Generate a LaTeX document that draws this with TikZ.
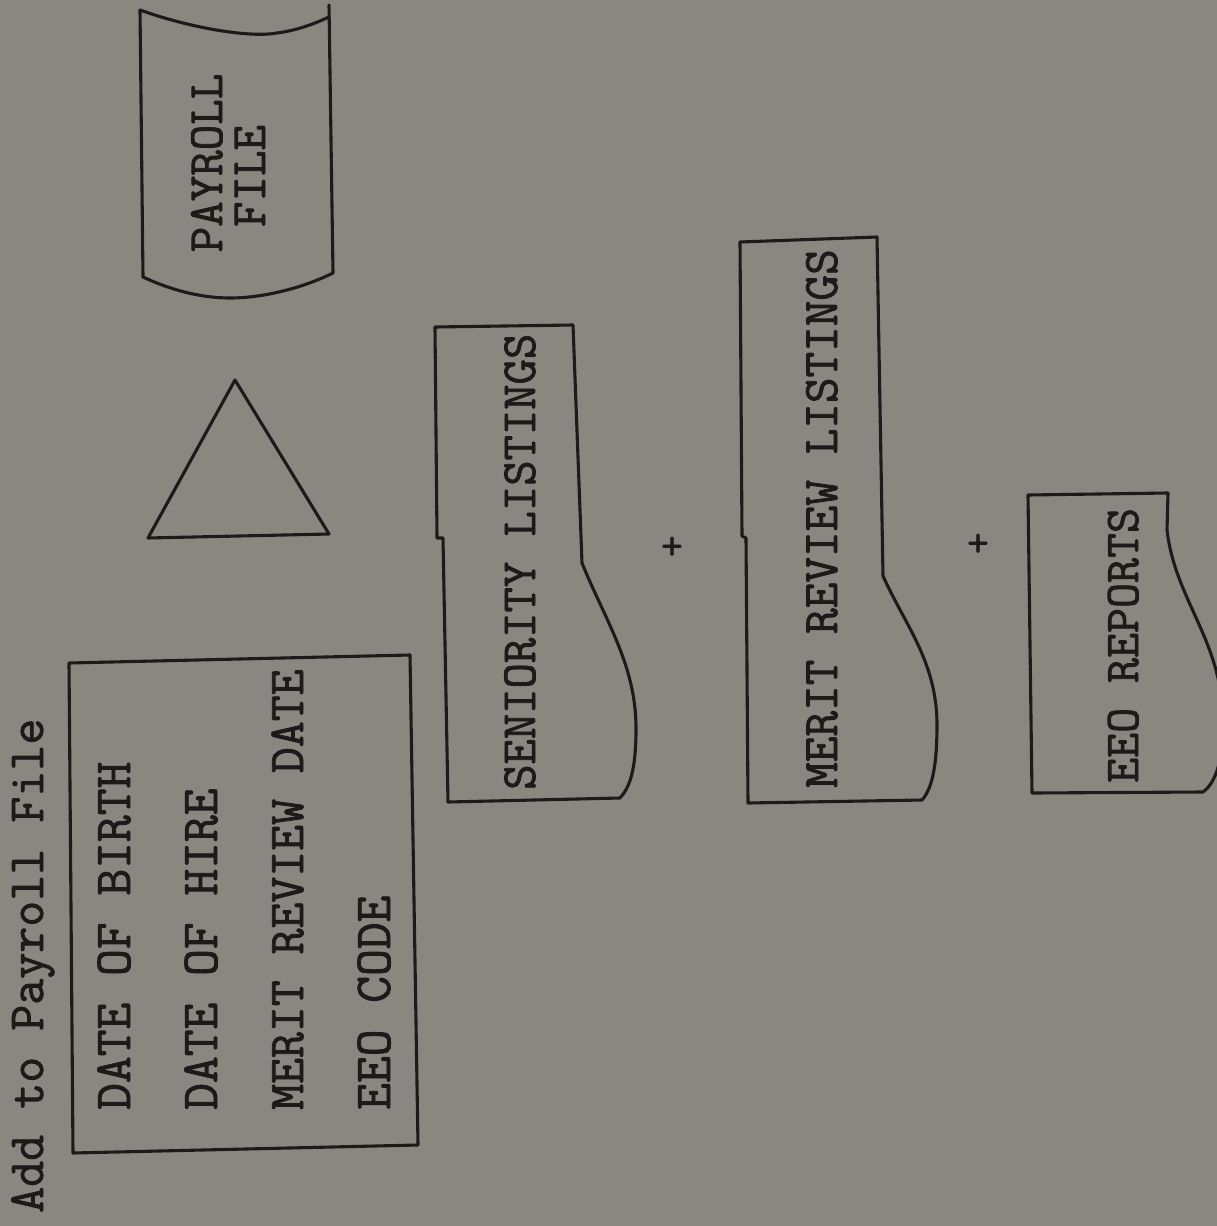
\documentclass[tikz,border=0pt]{standalone}
\usepackage{fontspec}
\newfontfamily\typew[FakeBold=1.6]{Latin Modern Mono}
\definecolor{paper}{HTML}{8A8781}
\definecolor{ink}{HTML}{1C1B1A}
\tikzset{
  shapeline/.style={draw=ink, line width=3.1pt, line join=round, line cap=round},
  vtext/.style={rotate=90, anchor=base west, inner sep=0pt, text=ink,
    font=\typew\fontsize{#1}{#1}\selectfont},
  vtext/.default=50.5,
  ctext/.style={rotate=90, anchor=base, inner sep=0pt, text=ink,
    font=\typew\fontsize{49.5}{49.5}\selectfont},
  plus/.style={inner sep=0pt, text=ink, font=\typew\fontsize{42}{42}\selectfont}
}
\begin{document}
\begin{tikzpicture}[x=1pt,y=1pt]
\clip (0,0) rectangle (1217,-1226);
\fill[paper] (0,0) rectangle (1217,-1226);

% heading
\node[vtext] (head) at (43,-1213) {Add to Payroll File};

% field box
\draw[shapeline] (69,-663) -- (410,-655) -- (418,-1145) -- (73,-1153) -- cycle;
\node[vtext=52] (f1) at (130,-1110) {DATE OF BIRTH};
\node[vtext=52] (f2) at (217,-1110) {DATE OF HIRE};
\node[vtext=50.3] (f3) at (303,-1110) {MERIT REVIEW DATE};
\node[vtext=52] (f4) at (390,-1110) {EEO CODE};

% triangle
\draw[shapeline] (235,-380) -- (148,-538) -- (329,-534) -- cycle;

% payroll file (stored data)
\draw[shapeline] (140,-10) .. controls (190,-28) and (250,-38) .. (277,-33)
  .. controls (300,-30) and (318,-22) .. (329,-17);
\draw[shapeline] (329,-5) -- (333,-273);
\draw[shapeline] (140,-10) -- (143,-277);
\draw[shapeline] (143,-277) .. controls (175,-292) and (205,-298) .. (230,-298)
  .. controls (265,-298) and (305,-287) .. (333,-273);
\node[ctext] (pay1) at (222,-163) {PAYROLL};
\node[ctext] (pay2) at (265,-176) {FILE};

% seniority listings (document)
\draw[shapeline] (443,-538) -- (437,-538) -- (435,-327) -- (573,-325) -- (582,-563)
  .. controls (605,-620) and (636,-665) .. (636,-728)
  .. controls (636,-770) and (630,-787) .. (620,-798)
  -- (448,-802) -- (443,-538);
\node[vtext=49.2] (sen) at (535,-790) {SENIORITY LISTINGS};

\node[plus] (p1) at (672,-548) {+};

% merit review listings (document)
\draw[shapeline] (746,-538) -- (742,-536) -- (740,-242) -- (877,-237) -- (883,-576)
  .. controls (905,-625) and (937,-662) .. (937,-725)
  .. controls (937,-770) and (931,-790) .. (922,-800)
  -- (748,-803) -- (746,-538);
\node[vtext=49.8] (mer) at (837,-788) {MERIT REVIEW LISTINGS};

\node[plus] (p2) at (978,-545) {+};

% EEO reports (document)
\draw[shapeline] (1028,-495) -- (1168,-493) -- (1167,-530)
  .. controls (1175,-600) and (1222,-640) .. (1223,-720)
  .. controls (1224,-765) and (1213,-785) .. (1203,-792)
  -- (1032,-793) -- cycle;
\node[vtext=48.5] (eeo) at (1138,-783) {EEO REPORTS};
\end{tikzpicture}
\end{document}
